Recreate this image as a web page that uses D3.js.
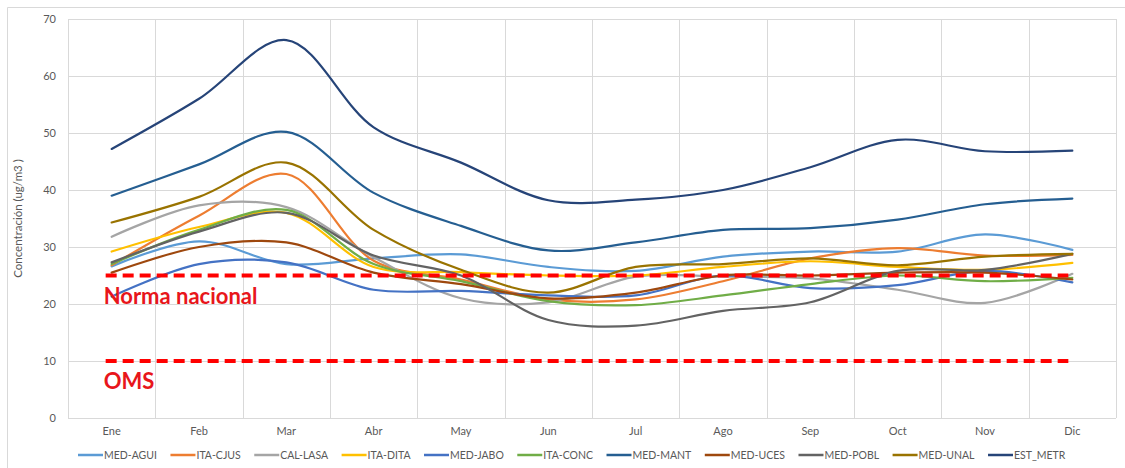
<!DOCTYPE html>
<html>
<head>
<meta charset="utf-8">
<script src="https://cdn.jsdelivr.net/npm/d3@7"></script>
<style>
  html, body { margin: 0; padding: 0; background: #fff; }
  svg { display: block; }
</style>
</head>
<body>
<svg id="chart" width="1125" height="468"></svg>
<script>
const months = ["Ene","Feb","Mar","Abr","May","Jun","Jul","Ago","Sep","Oct","Nov","Dic"];
const yTicks = [0,10,20,30,40,50,60,70];

const MED_AGUI = [26.6, 31.0, 27.0, 28.0, 28.7, 26.5, 25.8, 28.3, 29.2, 29.2, 32.2, 29.5];
const ITA_CJUS = [26.8, 35.5, 42.8, 27.6, 24.3, 20.8, 20.8, 24.0, 28.0, 29.8, 28.5, 28.6];
const CAL_LASA = [31.8, 37.3, 37.0, 28.2, 21.0, 20.3, 24.8, 24.8, 24.5, 22.5, 20.2, 25.3];
const ITA_DITA = [29.2, 33.5, 36.0, 26.5, 25.6, 25.0, 25.0, 26.5, 27.5, 26.5, 26.0, 27.2];
const MED_JABO = [21.3, 27.0, 27.3, 22.5, 22.3, 21.5, 21.5, 25.0, 22.8, 23.3, 25.8, 23.8];
const ITA_CONC = [27.0, 33.0, 36.5, 27.0, 24.0, 20.5, 19.8, 21.5, 23.5, 25.0, 24.0, 24.6];
const MED_MANT = [39.0, 44.5, 50.2, 39.5, 33.7, 29.4, 30.8, 33.0, 33.3, 34.8, 37.5, 38.5];
const MED_UCES = [25.5, 30.0, 30.8, 25.5, 23.5, 21.0, 22.0, 25.0, 25.0, 25.5, 25.5, 24.3];
const MED_POBL = [27.3, 32.7, 36.0, 28.5, 25.0, 17.2, 16.2, 18.8, 20.3, 25.8, 26.0, 28.8];
const MED_UNAL = [34.3, 38.8, 44.8, 33.0, 26.0, 22.0, 26.5, 27.0, 28.0, 26.8, 28.3, 28.8];
const EST_METR = [47.2, 56.0, 66.3, 51.0, 44.8, 38.2, 38.3, 40.0, 44.0, 48.8, 46.8, 46.9];

const seriesNames = ["MED-AGUI","ITA-CJUS","CAL-LASA","ITA-DITA","MED-JABO","ITA-CONC","MED-MANT","MED-UCES","MED-POBL","MED-UNAL","EST_METR"];
const seriesValues = [MED_AGUI, ITA_CJUS, CAL_LASA, ITA_DITA, MED_JABO, ITA_CONC, MED_MANT, MED_UCES, MED_POBL, MED_UNAL, EST_METR];
const seriesColors = ["#5B9BD5","#ED7D31","#A5A5A5","#FFC000","#4472C4","#70AD47","#255E91","#9E480E","#636363","#997300","#264478"];

const refLabels = ["Norma nacional","OMS"];
const refValues = [25, 10];
const yTitle = "Concentración  (ug/m3 )";

const svg = d3.select("#chart");
const W = 1125, H = 468;
const plot = {left: 68, right: 1116, top: 19, bottom: 418};

// outer chart border (left/top visible)
svg.append("path")
  .attr("d", `M7.5,${H} V7.5 H${W}`)
  .attr("fill","none").attr("stroke","#d9d9d9").attr("stroke-width",1);

const x = d3.scaleBand().domain(months).range([plot.left, plot.right]).paddingInner(0).paddingOuter(0);
const y = d3.scaleLinear().domain([0,70]).range([plot.bottom, plot.top]);
const xc = m => x(m) + x.bandwidth()/2;

// horizontal gridlines
svg.append("g").selectAll("line").data(yTicks).join("line")
  .attr("x1", plot.left).attr("x2", plot.right)
  .attr("y1", d => Math.round(y(d))+0.5).attr("y2", d => Math.round(y(d))+0.5)
  .attr("stroke", "#d9d9d9").attr("stroke-width", 1);

// vertical gridlines at category boundaries
const bounds = months.map(m => x(m)).concat([plot.right]);
svg.append("g").selectAll("line").data(bounds).join("line")
  .attr("x1", d => Math.round(d)+0.5).attr("x2", d => Math.round(d)+0.5)
  .attr("y1", plot.top).attr("y2", plot.bottom)
  .attr("stroke", "#d9d9d9").attr("stroke-width", 1);

// y axis labels
const yAxis = d3.axisLeft(y).tickValues(yTicks).tickSize(0).tickPadding(0);
const gy = svg.append("g").attr("transform", `translate(${plot.left-12},0)`).call(yAxis);
gy.select(".domain").remove();
gy.selectAll("text").attr("font-family","Lato, 'Open Sans', sans-serif").attr("font-size", 11).attr("fill","#595959");

// x axis labels
const xAxis = d3.axisBottom(x).tickSize(0).tickPadding(0);
const gx = svg.append("g").attr("transform", `translate(0,${plot.bottom+9})`).call(xAxis);
gx.select(".domain").remove();
gx.selectAll("text").attr("font-family","Lato, 'Open Sans', sans-serif").attr("font-size", 11).attr("fill","#595959");

// y title
svg.append("text")
  .attr("transform", `translate(22,${(plot.top+plot.bottom)/2}) rotate(-90)`)
  .attr("text-anchor","middle")
  .attr("font-family","Lato, 'Open Sans', sans-serif").attr("font-size", 11.5).attr("fill","#595959")
  .text(yTitle);

// series lines
const line = d3.line()
  .x((d,i) => xc(months[i]))
  .y(d => y(d))
  .curve(d3.curveCatmullRom.alpha(0.5));

svg.append("g").selectAll("path").data(seriesValues).join("path")
  .attr("d", d => line(d))
  .attr("fill","none")
  .attr("stroke", (d,i) => seriesColors[i])
  .attr("stroke-width", 2.2)
  .attr("stroke-linejoin","round").attr("stroke-linecap","round");

// reference lines
const refG = svg.append("g");
refG.selectAll("line").data(refValues).join("line")
  .attr("x1", xc(months[0]) - 6).attr("x2", xc(months[11]) - 4)
  .attr("y1", d => y(d)).attr("y2", d => y(d))
  .attr("stroke", "#FF0000").attr("stroke-width", 4)
  .attr("stroke-dasharray", "11,6");

refG.selectAll("text").data(refValues).join("text")
  .attr("x", xc(months[0]) - 8)
  .attr("y", d => y(d) + 28)
  .attr("font-family","Lato, 'Open Sans', sans-serif")
  .attr("font-weight","bold")
  .attr("font-size", 22)
  .attr("fill", "#E8161B")
  .text((d,i) => refLabels[i]);

// legend
const leg = svg.append("g").attr("transform", `translate(0,455)`);
let lx = 78;
seriesNames.forEach((name, i) => {
  const g = leg.append("g").attr("transform", `translate(${lx},0)`);
  g.append("line").attr("x1",0).attr("x2",25).attr("y1",0).attr("y2",0)
    .attr("stroke", seriesColors[i]).attr("stroke-width", 2.5);
  const t = g.append("text").attr("x", 26).attr("y", 3.5)
    .attr("font-family","Lato, 'Open Sans', sans-serif").attr("font-size", 10.5).attr("fill","#595959")
    .text(name);
  const w = t.node().getComputedTextLength();
  lx += 26 + w + 13.5;
});
</script>
</body>
</html>
